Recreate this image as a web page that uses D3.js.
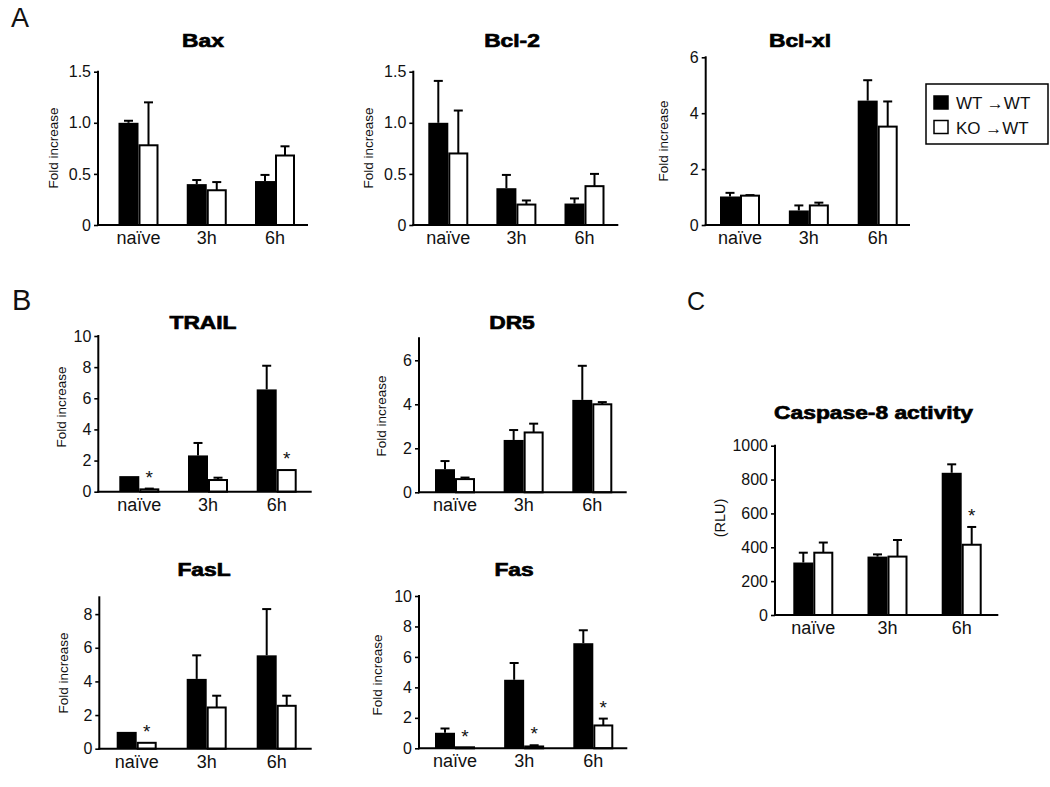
<!DOCTYPE html>
<html>
<head>
<meta charset="utf-8">
<script src="https://cdn.jsdelivr.net/npm/d3@7"></script>
<style>
html,body{margin:0;padding:0;background:#fff;}
svg{display:block;font-family:"Liberation Sans",Arial,sans-serif;}
</style>
</head>
<body>
<svg id="chart" width="1050" height="787"></svg>
<script>
// ---------- DATA ----------
const categories = ["naïve", "3h", "6h"];
const seriesNames = ["WT \u2192WT", "KO \u2192WT"];

const baxWT = [1.00, 0.40, 0.43],  baxWTErr = [0.02, 0.04, 0.06];
const baxKO = [0.78, 0.34, 0.68],  baxKOErr = [0.42, 0.08, 0.09];

const bcl2WT = [1.00, 0.36, 0.21], bcl2WTErr = [0.41, 0.13, 0.05];
const bcl2KO = [0.70, 0.20, 0.38], bcl2KOErr = [0.42, 0.04, 0.12];

const bclxlWT = [1.02, 0.52, 4.45], bclxlWTErr = [0.13, 0.18, 0.73];
const bclxlKO = [1.05, 0.70, 3.52], bclxlKOErr = [0.02, 0.10, 0.90];

const trailWT = [1.00, 2.33, 6.57], trailWTErr = [0.00, 0.80, 1.52];
const trailKO = [0.15, 0.75, 1.39], trailKOErr = [0.05, 0.15, 0.00];
const trailStars = [true, false, true];

const dr5WT = [1.05, 2.38, 4.20], dr5WTErr = [0.37, 0.45, 1.55];
const dr5KO = [0.60, 2.72, 4.00], dr5KOErr = [0.07, 0.40, 0.10];

const faslWT = [1.00, 4.15, 5.55], faslWTErr = [0.00, 1.40, 2.75];
const faslKO = [0.35, 2.45, 2.55], faslKOErr = [0.00, 0.70, 0.60];
const faslStars = [true, false, false];

const fasWT = [1.02, 4.50, 6.90], fasWTErr = [0.28, 1.10, 0.85];
const fasKO = [0.02, 0.12, 1.50], fasKOErr = [0.00, 0.08, 0.45];
const fasStars = [true, true, true];

const caspWT = [310, 345, 840], caspWTErr = [58, 13, 50];
const caspKO = [368, 345, 415], caspKOErr = [60, 98, 105];
const caspStars = [false, false, true];

const ticksHalf = [0, 0.5, 1.0, 1.5];
const ticksBy2to6 = [0, 2, 4, 6];
const ticksBy2to8 = [0, 2, 4, 6, 8];
const ticksBy2to10 = [0, 2, 4, 6, 8, 10];
const ticksCasp = [0, 200, 400, 600, 800, 1000];

// ---------- PANELS (data refs + layout) ----------
const panels = [
  {title:"Bax", wt:baxWT, wtErr:baxWTErr, ko:baxKO, koErr:baxKOErr, stars:null,
   domain:[0,1.5], ticks:ticksHalf, fmt:d=>d===0?"0":d3.format(".1f")(d), ylab:"Fold increase",
   ax:98, xEnd:308, y0:225, yTop:71.7, c0:138.5, c2:275, tx:203, ty:47, lx:54, ly:148},
  {title:"Bcl-2", wt:bcl2WT, wtErr:bcl2WTErr, ko:bcl2KO, koErr:bcl2KOErr, stars:null,
   domain:[0,1.5], ticks:ticksHalf, fmt:d=>d===0?"0":d3.format(".1f")(d), ylab:"Fold increase",
   ax:413.3, xEnd:618.3, y0:225, yTop:71.7, c0:448.3, c2:584.5, tx:512, ty:47, lx:369, ly:148},
  {title:"Bcl-xl", wt:bclxlWT, wtErr:bclxlWTErr, ko:bclxlKO, koErr:bclxlKOErr, stars:null,
   domain:[0,6], ticks:ticksBy2to6, fmt:d3.format("d"), ylab:"Fold increase",
   ax:705.7, xEnd:910, y0:225, yTop:57.3, c0:740, c2:877.7, tx:800, ty:47, lx:664, ly:141},
  {title:"TRAIL", wt:trailWT, wtErr:trailWTErr, ko:trailKO, koErr:trailKOErr, stars:trailStars,
   domain:[0,10], ticks:ticksBy2to10, fmt:d3.format("d"), ylab:"Fold increase",
   ax:98.3, xEnd:311.7, y0:491.7, yTop:336, c0:139.3, c2:276.7, tx:203, ty:329, lx:62, ly:407},
  {title:"DR5", wt:dr5WT, wtErr:dr5WTErr, ko:dr5KO, koErr:dr5KOErr, stars:null,
   domain:[0,7], ticks:ticksBy2to6, fmt:d3.format("d"), ylab:"Fold increase",
   ax:419, xEnd:626.7, y0:492.3, yTop:338.3, c0:455, c2:592.3, tx:512, ty:329, lx:382, ly:416},
  {title:"FasL", wt:faslWT, wtErr:faslWTErr, ko:faslKO, koErr:faslKOErr, stars:faslStars,
   domain:[0,9], ticks:ticksBy2to8, fmt:d3.format("d"), ylab:"Fold increase",
   ax:99.3, xEnd:311.7, y0:748.7, yTop:597.3, c0:136.7, c2:276.7, tx:204, ty:576, lx:64, ly:673},
  {title:"Fas", wt:fasWT, wtErr:fasWTErr, ko:fasKO, koErr:fasKOErr, stars:fasStars,
   domain:[0,10], ticks:ticksBy2to10, fmt:d3.format("d"), ylab:"Fold increase",
   ax:419, xEnd:627.3, y0:748.3, yTop:596, c0:455, c2:593.3, tx:514, ty:576, lx:378, ly:675},
  {title:"Caspase-8 activity", wt:caspWT, wtErr:caspWTErr, ko:caspKO, koErr:caspKOErr, stars:caspStars,
   domain:[0,1000], ticks:ticksCasp, fmt:d3.format("d"), ylab:"(RLU)",
   ax:775, xEnd:998.3, y0:615, yTop:445.7, c0:813.3, c2:961.7, tx:873.5, ty:419, lx:721, ly:518}
];

const svg = d3.select("#chart");
const BW = 20;   // bar width
const CAP = 9;   // error cap width

panels.forEach(p => {
  const g = svg.append("g");
  const y = d3.scaleLinear().domain(p.domain).range([p.y0, p.yTop]);
  const x = d3.scalePoint().domain(categories).range([p.c0, p.c2]);

  // title (heavy, slightly wide)
  g.append("text")
    .attr("transform", `translate(${p.tx},${p.ty}) scale(1.2,1)`)
    .attr("text-anchor", "middle")
    .attr("font-size", 19).attr("font-weight", "bold")
    .attr("stroke", "#000").attr("stroke-width", 0.7)
    .text(p.title);

  // y axis
  const yAxis = d3.axisLeft(y).tickValues(p.ticks).tickFormat(p.fmt).tickSize(4).tickPadding(3);
  const ya = g.append("g").attr("transform", `translate(${p.ax},0)`).call(yAxis);
  ya.attr("font-size", null).attr("font-family", null);
  ya.select(".domain").remove();
  ya.selectAll(".tick line").attr("stroke", "#000").attr("stroke-width", 1.6);
  ya.selectAll(".tick text").style("font-size", "16px").attr("fill", "#111");
  g.append("line").attr("x1", p.ax).attr("x2", p.ax).attr("y1", p.y0 + 1).attr("y2", p.yTop - 1)
    .attr("stroke", "#000").attr("stroke-width", 2);

  // y label
  g.append("text")
    .attr("transform", `translate(${p.lx},${p.ly}) rotate(-90)`)
    .attr("text-anchor", "middle").attr("dominant-baseline", "middle")
    .attr("font-size", p.ylab === "(RLU)" ? 14.5 : 13.5).attr("fill", "#111")
    .text(p.ylab);

  const rows = categories.map((c, i) => ({c, i, wt:p.wt[i], wtErr:p.wtErr[i], ko:p.ko[i], koErr:p.koErr[i],
    star: p.stars ? p.stars[i] : false}));

  // error bars
  rows.forEach(r => {
    const cx = x(r.c) + BW / 2;
    if (r.koErr > 0) {
      g.append("line").attr("x1", cx).attr("x2", cx).attr("y1", y(r.ko)).attr("y2", y(r.ko + r.koErr))
        .attr("stroke", "#000").attr("stroke-width", 2);
      g.append("line").attr("x1", cx - CAP / 2).attr("x2", cx + CAP / 2)
        .attr("y1", y(r.ko + r.koErr)).attr("y2", y(r.ko + r.koErr))
        .attr("stroke", "#000").attr("stroke-width", 2);
    }
    if (r.wtErr > 0) {
      const wx = x(r.c) - BW / 2;
      g.append("line").attr("x1", wx).attr("x2", wx).attr("y1", y(r.wt)).attr("y2", y(r.wt + r.wtErr))
        .attr("stroke", "#000").attr("stroke-width", 2);
      g.append("line").attr("x1", wx - CAP / 2).attr("x2", wx + CAP / 2)
        .attr("y1", y(r.wt + r.wtErr)).attr("y2", y(r.wt + r.wtErr))
        .attr("stroke", "#000").attr("stroke-width", 2);
    }
  });

  g.selectAll("rect.wt").data(rows).enter().append("rect")
    .attr("x", d => x(d.c) - BW).attr("width", BW)
    .attr("y", d => y(d.wt)).attr("height", d => p.y0 - y(d.wt))
    .attr("fill", "#000");

  g.selectAll("rect.ko").data(rows).enter().append("rect")
    .attr("x", d => x(d.c) + 1).attr("width", BW - 2)
    .attr("y", d => Math.min(y(d.ko), p.y0 - 1)).attr("height", d => Math.max(p.y0 - y(d.ko), 1))
    .attr("fill", "#fff").attr("stroke", "#000").attr("stroke-width", 2);

  // stars
  rows.filter(r => r.star).forEach(r => {
    const top = y(r.ko + r.koErr);
    g.append("text").attr("x", x(r.c) + BW / 2).attr("y", top - 5)
      .attr("text-anchor", "middle").attr("font-size", 19).attr("fill", "#111").text("*");
  });

  // x axis
  g.append("line").attr("x1", p.ax - 1).attr("x2", p.xEnd).attr("y1", p.y0).attr("y2", p.y0)
    .attr("stroke", "#000").attr("stroke-width", 2);
  g.selectAll("text.cat").data(categories).enter().append("text")
    .attr("x", d => x(d)).attr("y", p.y0 + 19)
    .attr("text-anchor", "middle").attr("font-size", 18).attr("fill", "#111")
    .text(d => d);
});

// panel letters
[["A", 11, 27, 27], ["B", 12, 310, 29], ["C", 687, 310, 25]].forEach(([t, lx, ly, fs]) => {
  svg.append("text").attr("x", lx).attr("y", ly).attr("font-size", fs).attr("fill", "#111").text(t);
});

// legend
const lg = svg.append("g");
lg.append("rect").attr("x", 926).attr("y", 84).attr("width", 122).attr("height", 60)
  .attr("fill", "#fff").attr("stroke", "#000").attr("stroke-width", 1.5);
seriesNames.forEach((s, i) => {
  const yy = 96 + i * 24.5;
  lg.append("rect").attr("x", 934).attr("y", yy).attr("width", 14).attr("height", 13)
    .attr("fill", i === 0 ? "#000" : "#fff").attr("stroke", "#000").attr("stroke-width", 1.5);
  lg.append("text").attr("x", 956).attr("y", yy + 13).attr("font-size", 17).attr("fill", "#111").text(s);
});
</script>
</body>
</html>
